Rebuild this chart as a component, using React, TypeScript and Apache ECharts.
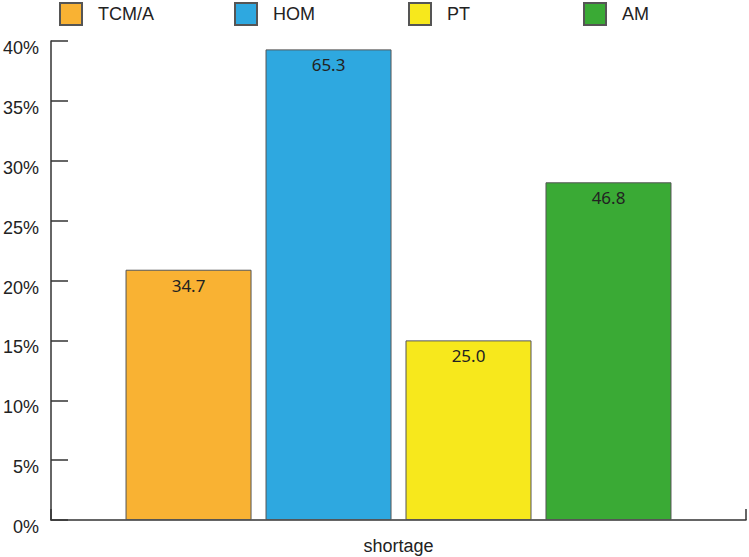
import React, { useEffect, useRef } from "react";
import * as echarts from "echarts";

const categories = ["shortage"];
const seriesNames = ["TCM/A", "HOM", "PT", "AM"];
const barHeights = [20.9, 39.3, 15.0, 28.2];
const barLabels = ["34.7", "65.3", "25.0", "46.8"];
const colors = ["#F9B233", "#2EA8E0", "#F7E81C", "#3AAA35"];
const legendLefts = [59, 234, 408, 583];

export default function App() {
  const ref = useRef<HTMLDivElement>(null);
  useEffect(() => {
    if (!ref.current) return;
    const chart = echarts.init(ref.current, undefined, { renderer: "svg" });
    const axisLine = { show: true, lineStyle: { color: "#333", width: 1.5 } };
    chart.setOption({
      animation: false,
      backgroundColor: "#fff",
      legend: seriesNames.map((n, i) => ({
        data: [n],
        left: legendLefts[i],
        top: 2,
        padding: 0,
        itemWidth: 22,
        itemHeight: 22,
        icon: "rect",
        textStyle: {
          fontFamily: "Liberation Sans",
          fontSize: 18,
          color: "#222",
          padding: [9, 0, 0, 11],
        },
      })),
      grid: { left: 49, right: 3, top: 41, bottom: 37 },
      xAxis: {
        type: "category",
        data: categories,
        axisLine,
        axisTick: { show: true, inside: true, length: 11, lineStyle: { color: "#333", width: 1.5 } },
        axisLabel: {
          fontFamily: "Liberation Sans",
          fontSize: 18,
          color: "#222",
          margin: 17,
        },
      },
      yAxis: {
        type: "value",
        min: 0,
        max: 40,
        interval: 5,
        axisLine,
        splitLine: { show: false },
        axisTick: { show: true, inside: true, length: 17, lineStyle: { color: "#333", width: 1.5 } },
        axisLabel: {
          formatter: "{value}%",
          fontFamily: "Liberation Sans",
          fontSize: 18,
          color: "#222",
          margin: 12,
          verticalAlign: "top",
          lineHeight: 14,
        },
      },
      series: seriesNames.map((n, i) => ({
        name: n,
        type: "bar",
        data: [barHeights[i]],
        barWidth: 126,
        barGap: "11.1%",
        itemStyle: { color: colors[i], borderColor: "#555", borderWidth: 1 },
        label: {
          show: true,
          position: "insideTop",
          distance: 7,
          formatter: () => barLabels[i],
          fontFamily: "Noto Sans",
          fontSize: 17,
          color: "#222",
        },
      })),
    });
    return () => chart.dispose();
  }, []);
  return <div ref={ref} style={{ width: 749, height: 557, position: "absolute", left: 0, top: 0 }} />;
}
